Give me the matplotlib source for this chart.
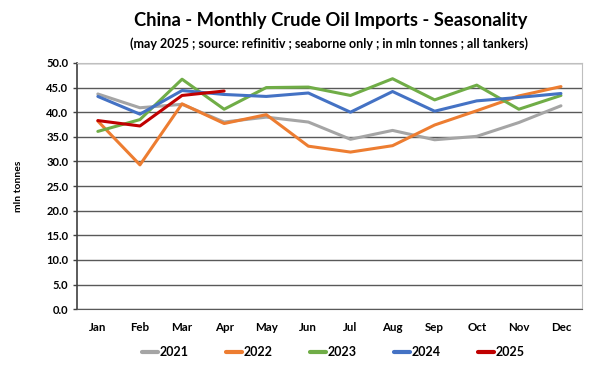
import matplotlib.pyplot as plt

months = ["Jan", "Feb", "Mar", "Apr", "May", "Jun", "Jul", "Aug", "Sep", "Oct", "Nov", "Dec"]

y2021 = [43.7, 40.9, 41.6, 38.0, 39.0, 38.0, 34.5, 36.3, 34.4, 35.1, 37.9, 41.3]
y2022 = [38.2, 29.3, 41.7, 37.7, 39.5, 33.1, 31.9, 33.2, 37.4, 40.3, 43.3, 45.2]
y2023 = [36.1, 38.5, 46.7, 40.6, 45.0, 45.1, 43.4, 46.8, 42.5, 45.5, 40.6, 43.4]
y2024 = [43.2, 39.6, 44.4, 43.6, 43.2, 43.9, 40.0, 44.2, 40.2, 42.3, 43.0, 43.8]
y2025 = [38.3, 37.2, 43.4, 44.3]

series = [("2021", y2021, "#A5A5A5"),
          ("2022", y2022, "#ED7D31"),
          ("2023", y2023, "#70AD47"),
          ("2024", y2024, "#4472C4"),
          ("2025", y2025, "#C00000")]

plt.rcParams["font.family"] = ["Lato", "DejaVu Sans"]
plt.rcParams["font.weight"] = "bold"

fig = plt.figure(figsize=(6, 3.77), dpi=100)
ax = fig.add_axes([0.128, 0.18, 0.842, 0.653])

for name, vals, col in series:
    ax.plot(months[:len(vals)], vals, color=col, lw=2.2, label=name, solid_capstyle="round")

ax.set_ylim(0, 50)
ax.set_xlim(-0.5, 11.5)
ax.set_yticks([i * 5 for i in range(11)])
ax.set_yticklabels([f"{i * 5:.1f}" for i in range(11)], fontsize=8, fontweight="bold")
ax.tick_params(axis="x", length=0, pad=9, labelsize=8.3)
ax.tick_params(axis="y", length=3, width=1, color="#404040", pad=3)
for lbl in ax.get_xticklabels():
    lbl.set_fontweight("bold")

ax.grid(axis="y", color="#595959", lw=1)
ax.set_axisbelow(True)
ax.spines["left"].set_color("#404040")
ax.spines["left"].set_linewidth(1.2)
ax.spines["bottom"].set_color("#595959")
ax.spines["top"].set_color("#BFBFBF")
ax.spines["right"].set_color("#BFBFBF")

ax.set_ylabel("mln tonnes", fontsize=7.5, fontweight="bold", labelpad=17)

fig.text(0.552, 0.945, "China - Monthly Crude Oil Imports - Seasonality", ha="center", va="center",
         fontsize=13.2, fontweight="bold")
fig.text(0.548, 0.885, "(may 2025 ; source: refinitiv ; seaborne only ; in mln tonnes ; all tankers)",
         ha="center", va="center", fontsize=9, fontweight="bold")

leg = fig.legend(loc="center", bbox_to_anchor=(0.555, 0.065), ncol=5, frameon=False, fontsize=9,
                 handlelength=1.3, handletextpad=0.1, columnspacing=3.0)
for h in leg.get_lines():
    h.set_linewidth(3)

fig.savefig("out.png", dpi=100)
